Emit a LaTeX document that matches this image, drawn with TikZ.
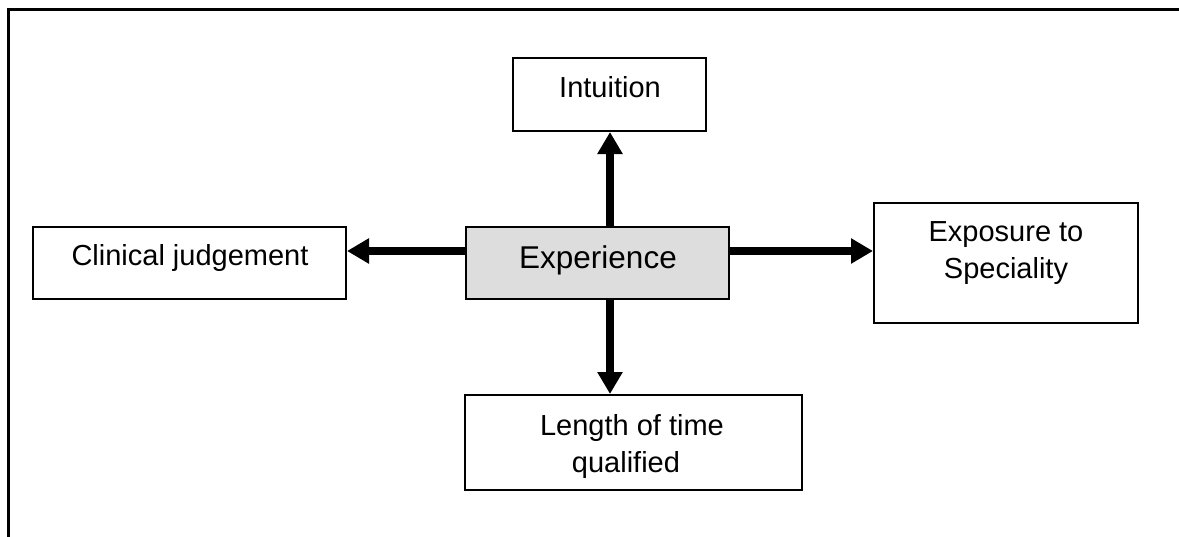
\documentclass[tikz,border=0pt]{standalone}
\usepackage{fontspec}
\setmainfont{Liberation Sans}
\usetikzlibrary{arrows.meta}
\definecolor{boxgray}{HTML}{DDDDDD}
\tikzset{
  boxnode/.style={draw=black, line width=2pt, rectangle, inner sep=0pt, fill=white},
  txt/.style={inner sep=0pt, anchor=base, font=\fontsize{29}{37}\selectfont},
  bigtxt/.style={inner sep=0pt, anchor=base, font=\fontsize{31.5}{38}\selectfont},
  arr/.style={line width=8pt, -{Triangle[length=22pt,width=24pt]}},
  frameline/.style={line width=3pt, line cap=rect}
}
\begin{document}
\begin{tikzpicture}[x=1pt,y=-1pt]
\useasboundingbox (0,0) rectangle (1179,536);
\coordinate (fa) at (8,540);
\coordinate (fb) at (8,9);
\coordinate (fc) at (1185,9);
\draw[frameline] (fa) -- (fb) -- (fc);

\node[boxnode, fill=boxgray, minimum width=263pt, minimum height=72pt] (exp) at (597.5,263) {};
\node[boxnode, minimum width=193pt, minimum height=73pt] (intu) at (609.5,94.5) {};
\node[boxnode, minimum width=313pt, minimum height=72pt] (clin) at (189.5,263) {};
\node[boxnode, minimum width=264pt, minimum height=120pt] (expo) at (1006,263) {};
\node[boxnode, minimum width=337pt, minimum height=95pt] (len) at (633.5,442.5) {};

\node[bigtxt] (exptxt) at (598,268) {Experience};
\node[txt] (intutxt) at (610,97) {Intuition};
\node[txt] (clintxt) at (190,265) {Clinical judgement};
\node[txt] (expotxt1) at (1006,241) {Exposure to};
\node[txt] (expotxt2) at (1006,278) {Speciality};
\node[txt] (lentxt1) at (632,435) {Length of time};
\node[txt] (lentxt2) at (626,472) {qualified};

\coordinate (vx) at (610,0);
\coordinate (hy) at (0,251);
\draw[arr] (exp.north -| vx) -- (intu.south -| vx);
\draw[arr] (exp.south -| vx) -- (len.north -| vx);
\draw[arr] (exp.west |- hy) -- (clin.east |- hy);
\draw[arr] (exp.east |- hy) -- (expo.west |- hy);
\end{tikzpicture}
\end{document}
